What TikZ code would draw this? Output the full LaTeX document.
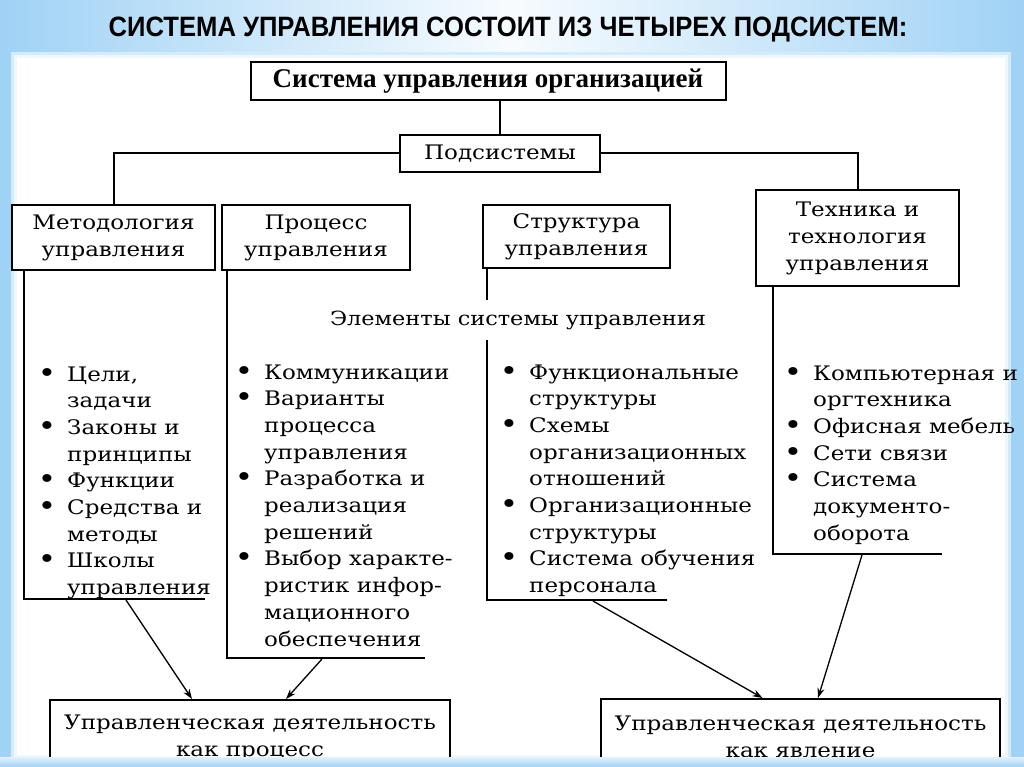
\documentclass[tikz,border=0pt]{standalone}
\usepackage{fontspec}
\setmainfont[FakeStretch=1.15]{DejaVu Serif}
\newfontfamily\titlefont{Liberation Sans}
\newfontfamily\topfont{Liberation Serif}
\usetikzlibrary{arrows.meta}
\definecolor{bgblue}{RGB}{160,210,245}
\newcommand\bu{\makebox[0pt][r]{\raisebox{-0.05em}{\scalebox{1.35}{\textbullet}}\hspace{11pt}}}
\tikzset{
  box/.style={draw, line width=2pt, fill=white, inner sep=0pt, align=center,
    font=\fontsize{20}{27}\selectfont},
  ln/.style={line width=2pt},
  arr/.style={line width=1.3pt, -{Stealth[length=10pt,width=7pt]}},
  lst/.style={inner sep=0pt, anchor=base west, font=\fontsize{20}{26.7}\selectfont}
}
\begin{document}
\begin{tikzpicture}[x=1pt,y=-1pt]
\useasboundingbox (0,0) rectangle (1024,767);
% background
\fill[bgblue] (0,0) rectangle (1024,767);
\shade[left color=bgblue, right color=bgblue, middle color=white!92!bgblue] (0,0) rectangle (1024,56);
\fill[white!55!bgblue] (11,52) rectangle (1011,761);
\fill[white!82!bgblue] (14,55) rectangle (1008,758);
\fill[white] (17,58) rectangle (1005,755);
% title
\node[font=\titlefont\bfseries\fontsize{28}{32}\selectfont] (title) at (508,30)
  {\scalebox{0.915}[1]{СИСТЕМА УПРАВЛЕНИЯ СОСТОИТ ИЗ ЧЕТЫРЕХ ПОДСИСТЕМ:}};
% top boxes
\node[box, minimum width=475pt, minimum height=38pt,
  font=\topfont\bfseries\fontsize{27}{30}\selectfont] (top) at (488,81)
  {Система управления организацией};
\node[box, minimum width=200pt, minimum height=37pt] (sub) at (500,153.5) {Подсистемы};
\node[box, minimum width=203pt, minimum height=65pt] (meth) at (113.5,237.5) {Методология\\управления};
\node[box, minimum width=188pt, minimum height=65pt] (proc) at (316,237.5) {Процесс\\управления};
\node[box, minimum width=187pt, minimum height=63pt] (str) at (576.5,236.5) {Структура\\управления};
\node[box, minimum width=203pt, minimum height=96pt] (tech) at (857.5,238) {Техника и\\технология\\управления};
% connectors
\draw[ln] (sub.north) -- (sub.north |- top.south);
\draw[ln] (sub.west) -- (sub.west -| meth.north) -- (meth.north);
\draw[ln] (sub.east) -- (sub.east -| tech.north) -- (tech.north);
% column brackets
\coordinate (c1) at (24,599);  \coordinate (c1e) at (205,599);
\coordinate (c2) at (227,658); \coordinate (c2e) at (425,658);
\coordinate (c3) at (487,600); \coordinate (c3e) at (667,600);
\coordinate (c4) at (773,554); \coordinate (c4e) at (942,554);
\draw[ln] (meth.south -| c1) -- (c1) -- (c1e);
\draw[ln] (proc.south -| c2) -- (c2) -- (c2e);
\draw[ln] (str.south -| c3) -- (c3) -- (c3e);
\draw[ln] (tech.south -| c4) -- (c4) -- (c4e);
\node[fill=white, inner xsep=2pt, inner ysep=11pt, font=\fontsize{19.5}{27}\selectfont] (elem) at (518,320)
  {Элементы системы управления};
% lists
\node[lst] (l1) at (67,381) {\begin{tabular}[t]{@{}l@{}}
\bu Цели,\\ задачи\\ \bu Законы и\\ принципы\\ \bu Функции\\ \bu Средства и\\ методы\\ \bu Школы\\ управления
\end{tabular}};
\node[lst] (l2) at (264,379) {\begin{tabular}[t]{@{}l@{}}
\bu Коммуникации\\ \bu Варианты\\ процесса\\ управления\\ \bu Разработка и\\ реализация\\ решений\\ \bu Выбор характе-\\ ристик инфор-\\ мационного\\ обеспечения
\end{tabular}};
\node[lst] (l3) at (529,379) {\begin{tabular}[t]{@{}l@{}}
\bu Функциональные\\ структуры\\ \bu Схемы\\ организационных\\ отношений\\ \bu Организационные\\ структуры\\ \bu Система обучения\\ персонала
\end{tabular}};
\node[lst] (l4) at (813,380) {\begin{tabular}[t]{@{}l@{}}
\bu Компьютерная и\\ оргтехника\\ \bu Офисная мебель\\ \bu Сети связи\\ \bu Система\\ документо-\\ оборота
\end{tabular}};
% bottom boxes
\node[box, minimum width=400pt, minimum height=75pt, font=\fontsize{20}{27}\selectfont] (bl) at (250,737.5)
  {Управленческая деятельность\\как процесс};
\node[box, minimum width=399pt, minimum height=75pt, font=\fontsize{20}{27}\selectfont] (br) at (800.5,736.5)
  {Управленческая деятельность\\как явление};
% arrows
\coordinate (a1) at (126,600);
\coordinate (a2) at (322,659);
\coordinate (a3) at (593,601);
\coordinate (a4) at (862,555);
\draw[arr] (a1) -- ([xshift=-58pt]bl.north);
\draw[arr] (a2) -- ([xshift=36pt]bl.north);
\draw[arr] (a3) -- ([xshift=-38pt]br.north);
\draw[arr] (a4) -- ([xshift=17.5pt]br.north);
% bottom border overlay
\shade[top color=white!70!bgblue, bottom color=bgblue] (0,757) rectangle (1024,767);
\end{tikzpicture}
\end{document}
